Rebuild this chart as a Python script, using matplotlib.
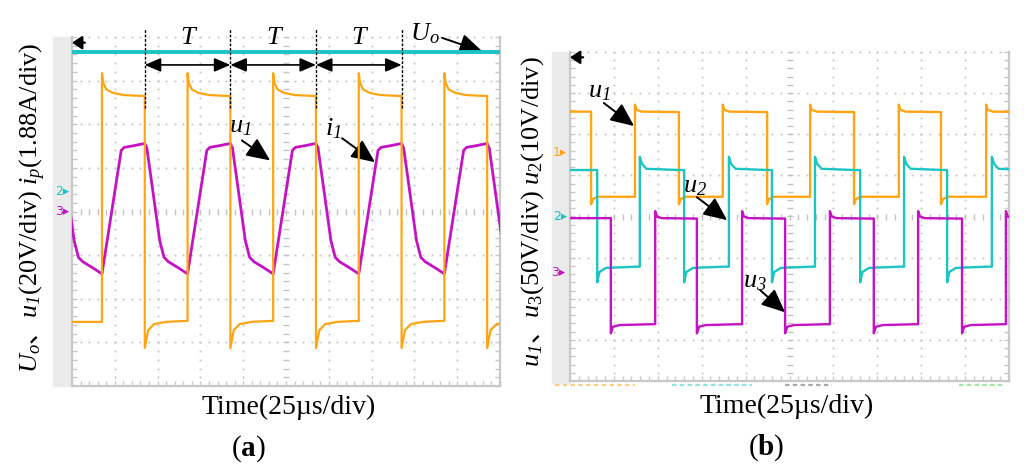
import numpy as np
import matplotlib.pyplot as plt
from matplotlib.patches import Rectangle

plt.rcParams.update({
    "font.family": ["Liberation Serif", "Noto Sans CJK SC"],
    "mathtext.fontset": "custom",
    "mathtext.rm": "Liberation Serif",
    "mathtext.it": "Liberation Serif:italic",
    "mathtext.bf": "Liberation Serif:bold",
    "mathtext.sf": "Liberation Serif:italic",
})

# ---- panel (a) data, in scope divisions (x 0..10, y -4..4) ----
UO_T = [0.0, 10.0]
UO_V = [3.65, 3.65]

U1A_START = -2.53
U1A_RISE = [0.70, 2.70, 4.70, 6.70, 8.70]
U1A_FALL = [1.70, 3.70, 5.70, 7.70, 9.70]
U1A_HIGH_DT = [0.0, 0.03, 0.10, 0.25, 0.50, 0.90]
U1A_HIGH_V = [3.17, 2.95, 2.80, 2.72, 2.67, 2.65]
U1A_LOW_DT = [0.0, 0.08, 0.22, 0.50, 0.90]
U1A_LOW_V = [-3.13, -2.72, -2.58, -2.53, -2.51]

# i1 keypoints per cycle, relative to the rising edge of u1
I1_RISE = [-1.30, 0.70, 2.70, 4.70, 6.70, 8.70]
I1_DT = [0.0, 0.45, 0.52, 0.75, 1.0, 1.05, 1.35, 1.45, 1.55, 1.80]
I1_V = [-1.43, 1.40, 1.47, 1.51, 1.56, 1.45, -0.67, -1.05, -1.15, -1.30]

T_MARKS = [1.70, 3.70, 5.70, 7.70]

# ---- panel (b) data ----
U1B_START = 2.55
U1B_FALL = [0.48, 2.48, 4.49, 6.47, 8.45]
U1B_RISE = [1.48, 3.48, 5.47, 7.49, 9.48]
U1B_HIGH_DT, U1B_HIGH_V = [0.0, 0.03, 0.15, 0.9], [2.72, 2.60, 2.55, 2.54]
U1B_LOW_DT, U1B_LOW_V = [0.0, 0.04, 0.15, 0.9], [0.30, 0.42, 0.48, 0.48]

U2B_START = 1.13
U2B_FALL = [0.62, 2.60, 4.60, 6.61, 8.59]
U2B_RISE = [1.59, 3.62, 5.58, 7.61, 9.61]
U2B_HIGH_DT, U2B_HIGH_V = [0.0, 0.05, 0.15, 0.9], [1.45, 1.28, 1.16, 1.13]
U2B_LOW_DT, U2B_LOW_V = [0.0, 0.05, 0.20, 0.9], [-1.60, -1.35, -1.25, -1.22]

U3B_START = -0.04
U3B_FALL = [0.93, 2.89, 4.90, 6.92, 8.93]
U3B_RISE = [1.94, 3.92, 5.92, 7.93, 9.93]
U3B_HIGH_DT, U3B_HIGH_V = [0.0, 0.04, 0.15, 0.9], [0.13, 0.0, -0.04, -0.05]
U3B_LOW_DT, U3B_LOW_V = [0.0, 0.05, 0.20, 0.9], [-2.84, -2.68, -2.64, -2.62]

ORANGE = "#ffa514"
CYAN = "#1cc4c4"
MAGENTA = "#c412c4"
GRID = "#c4c4c4"
BORDER = "#c8c8c8"
STRIP = "#ebebeb"


def square_trace(start, rises, falls, high, low):
    edges = sorted([(r, high) for r in rises] + [(f, low) for f in falls])
    t, y = [0.0], [start]
    for te, (dt, val) in edges:
        t.append(te)
        y.append(y[-1])
        t.extend(te + np.asarray(dt))
        y.extend(val)
    t.append(10.5)
    y.append(y[-1])
    return np.asarray(t), np.asarray(y)


def screen(ax):
    ax.set_xlim(0, 10)
    ax.set_ylim(-4, 4)
    fx = np.arange(0, 10.001, 0.2)
    fy = np.arange(-4, 4.001, 0.2)
    for gx in [1, 2, 3, 4, 6, 7, 8, 9]:
        ax.plot(np.full_like(fy, gx), fy, ls="none", marker="s", ms=1.3,
                mec="none", color=GRID, zorder=1)
    for gy in [-3, -2, -1, 1, 2, 3, 4]:
        ax.plot(fx, np.full_like(fx, gy), ls="none", marker="s", ms=1.3,
                mec="none", color=GRID, zorder=1, clip_on=False)
    ax.plot(fx, np.zeros_like(fx), ls="none", marker="|", ms=4, mew=1,
            color=GRID, zorder=1)
    ax.plot(np.full_like(fy, 5), fy, ls="none", marker="_", ms=4, mew=1,
            color=GRID, zorder=1)
    ax.set_xticks(fx)
    ax.set_yticks(fy)
    ax.tick_params(direction="in", length=3.5, width=1, color=BORDER,
                   left=True, right=True, bottom=True, top=False,
                   labelleft=False, labelbottom=False)
    for side in ["left", "bottom", "right"]:
        ax.spines[side].set_color(BORDER)
        ax.spines[side].set_linewidth(1.6)
    ax.spines["top"].set_visible(False)
    ax.annotate("", xy=(0.0, 3.87), xytext=(0.3, 3.87),
                arrowprops=dict(arrowstyle="-|>,head_length=0.6,head_width=0.4",
                                color="k", lw=1.6, mutation_scale=10,
                                shrinkA=0, shrinkB=0),
                annotation_clip=False)


def pointer(ax, label, xy_text, tip, tail, size=19):
    ax.text(*xy_text, label, fontsize=size, ha="center", va="center")
    ax.annotate("", xy=tip, xytext=tail,
                arrowprops=dict(arrowstyle="-|>,head_length=0.9,head_width=0.4",
                                color="k", lw=1.4, mutation_scale=16,
                                shrinkA=0, shrinkB=0),
                annotation_clip=False)


def channel_tag(ax, x, y, num, color):
    ax.text(x, y, num + "▸", color=color, fontsize=9, family="DejaVu Sans",
            ha="center", va="center", clip_on=False, zorder=6)


fig = plt.figure(figsize=(10.24, 4.72), dpi=100)

axa = fig.add_axes([72 / 1024, 1 - 386 / 472, 428 / 1024, 349 / 472])
axb = fig.add_axes([570 / 1024, 1 - 381 / 472, 439 / 1024, 329 / 472])
fig.patches.append(Rectangle((53 / 1024, 1 - 386 / 472), 19 / 1024, 349 / 472,
                             transform=fig.transFigure, color=STRIP, zorder=-1))
fig.patches.append(Rectangle((552 / 1024, 1 - 383 / 472), 18 / 1024, 331 / 472,
                             transform=fig.transFigure, color=STRIP, zorder=-1))

# ---------------- panel (a) ----------------
screen(axa)
t_i1 = np.concatenate([r + np.asarray(I1_DT) for r in I1_RISE])
v_i1 = np.tile(I1_V, len(I1_RISE))
axa.plot(t_i1, v_i1, color=MAGENTA, lw=2.0, zorder=3)
t, y = square_trace(U1A_START, U1A_RISE, U1A_FALL,
                    (U1A_HIGH_DT, U1A_HIGH_V), (U1A_LOW_DT, U1A_LOW_V))
axa.plot(t, y, color=ORANGE, lw=1.6, zorder=4)
axa.plot(UO_T, UO_V, color=CYAN, lw=2.8, zorder=4)

for xm in T_MARKS:
    axa.plot([xm, xm], [2.37, 4.21], color="k", lw=1.0, ls=(0, (2, 1.2)),
             clip_on=False, zorder=5)
for x0, x1 in zip(T_MARKS[:-1], T_MARKS[1:]):
    axa.annotate("", xy=(x1, 3.36), xytext=(x0, 3.36),
                 arrowprops=dict(arrowstyle="<|-|>,head_length=0.7,head_width=0.3",
                                 color="k", lw=1.2, mutation_scale=14,
                                 shrinkA=0, shrinkB=0), zorder=5)
    axa.text((x0 + x1) / 2, 3.98, "T", fontsize=19, style="italic",
             ha="center", va="center", zorder=6)

pointer(axa, r"$U_o$", (8.25, 4.08), (9.6, 3.66), (8.65, 3.98))
pointer(axa, r"$u_{\mathsf{1}}$", (3.93, 1.93), (4.63, 1.17), (3.97, 1.63))
pointer(axa, r"$i_{\mathsf{1}}$", (6.1, 1.9), (7.08, 1.13), (6.31, 1.68))

channel_tag(axa, -0.23, 0.46, "2", CYAN)
channel_tag(axa, -0.23, 0.0, "3", MAGENTA)

# ---------------- panel (b) ----------------
screen(axb)
t, y = square_trace(U1B_START, U1B_RISE, U1B_FALL,
                    (U1B_HIGH_DT, U1B_HIGH_V), (U1B_LOW_DT, U1B_LOW_V))
axb.plot(t, y, color=ORANGE, lw=1.7, zorder=3)
t, y = square_trace(U2B_START, U2B_RISE, U2B_FALL,
                    (U2B_HIGH_DT, U2B_HIGH_V), (U2B_LOW_DT, U2B_LOW_V))
axb.plot(t, y, color=CYAN, lw=1.7, zorder=3)
t, y = square_trace(U3B_START, U3B_RISE, U3B_FALL,
                    (U3B_HIGH_DT, U3B_HIGH_V), (U3B_LOW_DT, U3B_LOW_V))
axb.plot(t, y, color=MAGENTA, lw=1.7, zorder=4)

pointer(axb, r"$u_{\mathsf{1}}$", (0.66, 3.03), (1.46, 2.2), (0.77, 2.76))
pointer(axb, r"$u_{\mathsf{2}}$", (2.85, 0.72), (3.58, -0.09), (2.89, 0.47))
pointer(axb, r"$u_{\mathsf{3}}$", (4.21, -1.6), (4.9, -2.33), (4.33, -1.79))

channel_tag(axb, -0.23, 1.55, "1", ORANGE)
channel_tag(axb, -0.23, 0.0, "2", CYAN)
channel_tag(axb, -0.27, -1.35, "3", MAGENTA)

# cut-off scope readouts under screen (b)
for (x0, x1), col in zip([(-0.34, 1.48), (2.32, 4.15), (4.9, 5.97), (8.86, 9.91)],
                         ["#f8cf86", "#93e2e2", "#a8a8a8", "#a3e6a3"]):
    axb.plot([x0, x1], [-4.1, -4.1], color=col, lw=1.6, ls=(0, (2, 1.5)),
             clip_on=False)

# ---------------- labels ----------------
fig.text(33 / 1024, 1 - 208 / 472,
         r"$U_o$、$u_{\mathsf{1}}\mathrm{(20V/div)}\ i_p\mathrm{(1.88A/div)}$",
         rotation=90, fontsize=19, family="Noto Sans CJK SC",
         ha="center", va="center")
fig.text(533 / 1024, 1 - 212 / 472,
         r"$u_{\mathsf{1}}$、$u_3\mathrm{(50V/div)}\ u_2\mathrm{(10V/div)}$",
         rotation=90, fontsize=19, family="Noto Sans CJK SC",
         ha="center", va="center")
fig.text(289 / 1024, 1 - 407 / 472, "Time(25µs/div)", fontsize=20,
         ha="center", va="center")
fig.text(787 / 1024, 1 - 406 / 472, "Time(25µs/div)", fontsize=20,
         ha="center", va="center")
fig.text(248 / 1024, 1 - 449 / 472, r"$\mathrm{(}\mathbf{a}\mathrm{)}$",
         fontsize=21, ha="center", va="center")
fig.text(766 / 1024, 1 - 448 / 472, r"$\mathrm{(}\mathbf{b}\mathrm{)}$",
         fontsize=21, ha="center", va="center")

fig.savefig("out.png", dpi=100)
